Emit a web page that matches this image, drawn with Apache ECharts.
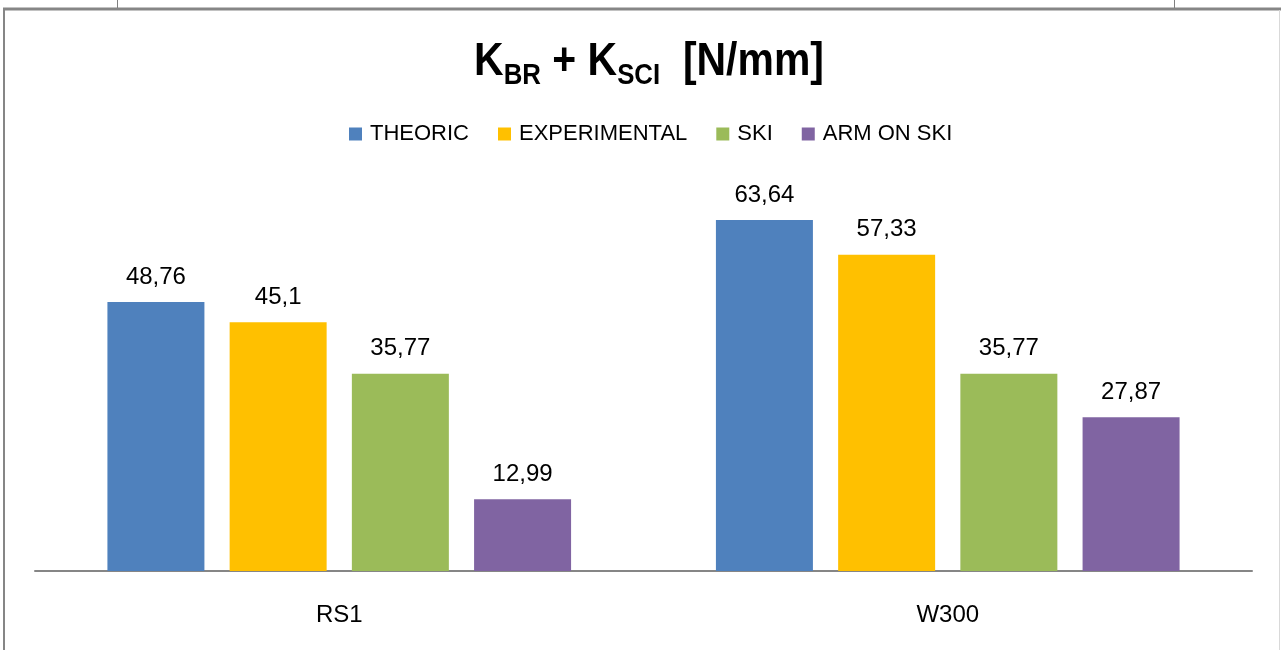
<!DOCTYPE html>
<html>
<head>
<meta charset="utf-8">
<script src="https://cdn.jsdelivr.net/npm/echarts@6/dist/echarts.min.js"></script>
<style>
  html, body { margin: 0; padding: 0; background: #ffffff; }
  #chart { width: 1281px; height: 650px; }
</style>
</head>
<body>
<div id="chart"></div>
<script>
// Stiffness values per machine
const categories = ['RS1', 'W300'];
const seriesNames = ['THEORIC', 'EXPERIMENTAL', 'SKI', 'ARM ON SKI'];
const theoric = [48.76, 63.64];
const experimental = [45.1, 57.33];
const ski = [35.77, 35.77];
const armOnSki = [12.99, 27.87];
const colors = ['#4F81BD', '#FFC000', '#9BBB59', '#8064A2'];

const valueSets = [theoric, experimental, ski, armOnSki];

// Decimal comma formatting for labels
function fmt(v) {
  return String(v).replace('.', ',');
}

const chart = echarts.init(document.getElementById('chart'));

const series = seriesNames.map((name, i) => ({
  name: name,
  type: 'bar',
  data: valueSets[i],
  barWidth: 97,
  barGap: '26%',
  itemStyle: { color: colors[i] },
  label: {
    show: true,
    position: 'top',
    distance: 13,
    fontFamily: 'Liberation Sans, Arial, sans-serif',
    fontSize: 24,
    color: '#000000',
    formatter: p => fmt(p.value)
  }
}));

const titleFont = 'Liberation Sans, Arial, sans-serif';

chart.setOption({
  backgroundColor: '#ffffff',
  animation: false,
  legend: {
    top: 118,
    left: 344,
    itemWidth: 13,
    itemHeight: 13,
    itemGap: 29,
    icon: 'rect',
    data: seriesNames,
    textStyle: {
      fontFamily: 'Liberation Sans, Arial, sans-serif',
      fontSize: 22,
      color: '#000000',
      padding: [0, 0, 0, 3]
    }
  },
  grid: {
    left: 35,
    right: 29,
    top: 185,
    bottom: 79,
    containLabel: false
  },
  xAxis: {
    type: 'category',
    data: categories,
    axisLine: { lineStyle: { color: '#868686', width: 2 } },
    axisTick: { show: false },
    axisLabel: {
      margin: 32,
      fontFamily: 'Liberation Sans, Arial, sans-serif',
      fontSize: 24,
      color: '#000000'
    }
  },
  yAxis: {
    type: 'value',
    min: 0,
    max: 70,
    interval: 10,
    show: false,
    splitLine: { show: false }
  },
  series: series,
  graphic: [
    // condensed bold title with subscripts
    {
      type: 'text',
      x: 649,
      y: 62,
      scaleX: 0.89,
      silent: true,
      style: {
        text: '{a|K}{s|BR}{a| + K}{s|SCI}{a|  [N/mm]}',
        align: 'center',
        verticalAlign: 'middle',
        rich: {
          a: {
            fontFamily: titleFont,
            fontWeight: 'bold',
            fontSize: 46,
            lineHeight: 56,
            fill: '#000000'
          },
          s: {
            fontFamily: titleFont,
            fontWeight: 'bold',
            fontSize: 29,
            lineHeight: 22,
            verticalAlign: 'bottom',
            fill: '#000000'
          }
        }
      }
    },
    // chart frame
    { type: 'line', shape: { x1: 3, y1: 9, x2: 1281, y2: 9 }, style: { stroke: '#868686', lineWidth: 3 }, silent: true },
    { type: 'line', shape: { x1: 4, y1: 9, x2: 4, y2: 650 }, style: { stroke: '#868686', lineWidth: 2 }, silent: true },
    { type: 'line', shape: { x1: 1279.5, y1: 10, x2: 1279.5, y2: 650 }, style: { stroke: '#d9d9d9', lineWidth: 1 }, silent: true },
    { type: 'line', shape: { x1: 117.5, y1: 0, x2: 117.5, y2: 8 }, style: { stroke: '#7f7f7f', lineWidth: 1 }, silent: true },
    { type: 'line', shape: { x1: 1174.5, y1: 0, x2: 1174.5, y2: 8 }, style: { stroke: '#7f7f7f', lineWidth: 1 }, silent: true }
  ]
});
</script>
</body>
</html>
